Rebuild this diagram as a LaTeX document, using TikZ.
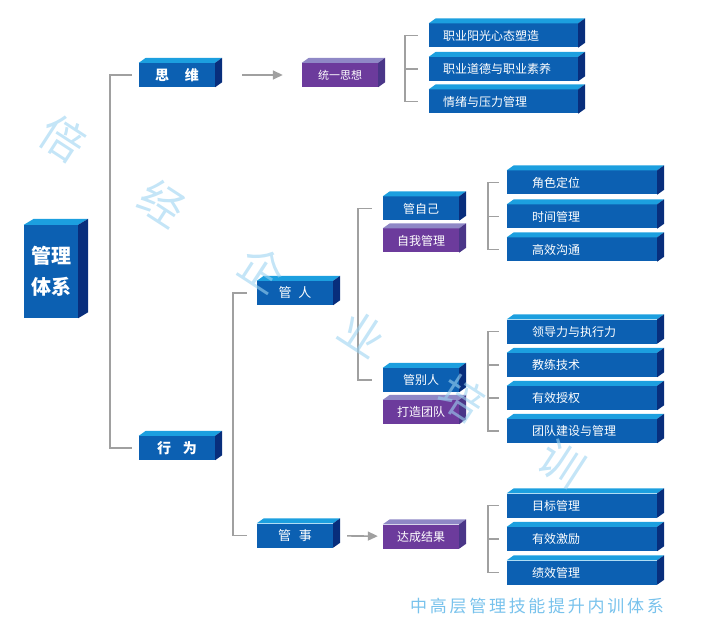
\documentclass[tikz,border=0pt]{standalone}
\usepackage{fontspec}
\usepackage{tikz}
\usetikzlibrary{arrows.meta}
\setmainfont{Noto Sans CJK SC}
\newfontfamily\footfont[LetterSpace=16]{Noto Sans CJK SC}
\definecolor{front}{HTML}{0C60B2}
\definecolor{topc}{HTML}{1C9FDF}
\definecolor{sidec}{HTML}{082E7C}
\definecolor{pfront}{HTML}{6C3B9C}
\definecolor{ptop}{HTML}{8F88C6}
\definecolor{pside}{HTML}{4A3688}
\definecolor{linkc}{HTML}{A0A0A0}
\definecolor{wm}{HTML}{9CD3F1}
\definecolor{foot}{HTML}{78C2EC}

\begin{document}
\begin{tikzpicture}[x=1pt,y=-1pt,
    blok/.style={fill=front,text=white,minimum width=76,minimum height=24,inner sep=0,font=\fontsize{12}{14}\selectfont},
    paars/.style={blok,fill=pfront},
    itema/.style={blok,inner xsep=14,text width=121,align=left},
    itemb/.style={blok,inner xsep=25,text width=100,align=left},
    kop/.style={blok,font=\bfseries\fontsize{14}{16}\selectfont},
    link/.style={draw=linkc,line width=1.6},
    arr/.style={link,-{Triangle[length=10pt,width=9pt]}}]
            \useasboundingbox (0,0) rectangle (704,628);
            % kolom 1
            \node [blok, minimum width=54, minimum height=93, align=center, font=\bfseries\fontsize{20}{31}\selectfont] (sys) at (51,271.5) {管理\\体系};
            \node [kop] (sw) at (177,75) {思\hspace{16pt}维};
            \node [kop] (xw) at (177,448) {行\hspace{12pt}为};
            % kolom 2
            \node [paars, font=\fontsize{11}{13}\selectfont] (ty) at (340,75) {统一思想};
            \node [itema] (a1) at (503.5,35.5) {职业阳光心态塑造};
            \node [itema] (a2) at (503.5,69) {职业道德与职业素养};
            \node [itema] (a3) at (503.5,101.5) {情绪与压力管理};
            \node [kop, font=\fontsize{13}{15}\selectfont] (gr) at (295,293) {管\hspace{7pt}人};
            \node [kop, font=\fontsize{13}{15}\selectfont] (gs) at (295,535.5) {管\hspace{8pt}事};
            % kolom 3
            \node [blok] (gz) at (421,208.5) {管自己};
            \node [paars] (zw) at (421,240.5) {自我管理};
            \node [blok] (gb) at (421,380) {管别人};
            \node [paars] (td) at (421,412) {打造团队};
            \node [paars] (dc) at (421,536.5) {达成结果};
            % kolom 4
            \node [itemb] (b1) at (582,182.5) {角色定位};
            \node [itemb] (b2) at (582,216.5) {时间管理};
            \node [itemb] (b3) at (582,249.5) {高效沟通};
            \node [itemb] (c1) at (582,331.5) {领导力与执行力};
            \node [itemb] (c2) at (582,365) {教练技术};
            \node [itemb] (c3) at (582,398) {有效授权};
            \node [itemb] (c4) at (582,431) {团队建设与管理};
            \node [itemb] (d1) at (582,505.5) {目标管理};
            \node [itemb] (d2) at (582,539) {有效激励};
            \node [itemb] (d3) at (582,572.5) {绩效管理};
            % zijvlakken
            \fill [topc] (sys.north west) -- ++(10,-6) -- ([shift={(10,-6)}]sys.north east) -- (sys.north east) -- cycle;
            \fill [sidec] (sys.north east) -- ++(10,-6) -- ([shift={(10,-6)}]sys.south east) -- (sys.south east) -- cycle;
            \foreach \n in {sw,xw,a1,a2,a3,gr,gs,gz,gb,b1,b2,b3,c1,c2,c3,c4,d1,d2,d3} {
                \fill [topc] (\n.north west) -- ++(7,-5) -- ([shift={(7,-5)}]\n.north east) -- (\n.north east) -- cycle;
                \fill [sidec] (\n.north east) -- ++(7,-5) -- ([shift={(7,-5)}]\n.south east) -- (\n.south east) -- cycle;
            }
            \foreach \n in {ty,zw,td,dc} {
                \fill [ptop] (\n.north west) -- ++(7,-5) -- ([shift={(7,-5)}]\n.north east) -- (\n.north east) -- cycle;
                \fill [pside] (\n.north east) -- ++(7,-5) -- ([shift={(7,-5)}]\n.south east) -- (\n.south east) -- cycle;
            }
            % haken
            \coordinate (k1) at (110,0);
            \coordinate (k2) at (405,0);
            \coordinate (k3) at (233,0);
            \coordinate (k4) at (358,0);
            \coordinate (k5) at (488,0);
            \draw [link] ([xshift=-7]sw.west) -- (sw.west -| k1) -- (xw.west -| k1) -- ([xshift=-7]xw.west);
            \draw [link] ([xshift=-11]a1.west) -- (a1.west -| k2) -- (a3.west -| k2) -- ([xshift=-11]a3.west);
            \draw [link] (a2.west -| k2) -- ([xshift=-11]a2.west);
            \draw [link] ([xshift=-10]gr.west) -- (gr.west -| k3) -- (gs.west -| k3) -- ([xshift=-10]gs.west);
            \draw [link] ([xshift=-11]gz.west) -- (gz.west -| k4) -- (gb.west -| k4) -- ([xshift=-11]gb.west);
            \draw [link] ([xshift=-8]b1.west) -- (b1.west -| k5) -- (b3.west -| k5) -- ([xshift=-8]b3.west);
            \draw [link] (b2.west -| k5) -- ([xshift=-8]b2.west);
            \draw [link] ([xshift=-8]c1.west) -- (c1.west -| k5) -- (c4.west -| k5) -- ([xshift=-8]c4.west);
            \draw [link] (c2.west -| k5) -- ([xshift=-8]c2.west);
            \draw [link] (c3.west -| k5) -- ([xshift=-8]c3.west);
            \draw [link] ([xshift=-8]d1.west) -- (d1.west -| k5) -- (d3.west -| k5) -- ([xshift=-8]d3.west);
            \draw [link] (d2.west -| k5) -- ([xshift=-8]d2.west);
            \draw [arr, shorten <=27pt, shorten >=19pt] (sw) -- (ty);
            \draw [arr, shorten <=14pt, shorten >=5pt] (gs) -- (dc);
            % watermerk en voet
            \foreach \c [count=\i from 0] in {倍,经,企,业,培,训}
                \node [text=wm, opacity=0.6, rotate=-33, font=\fontsize{44}{44}\selectfont] (w\i) at (63+99.8*\i,138+65.2*\i) {\c};
            \node [text=foot, font=\footfont\fontsize{17}{20}\selectfont] (ft) at (537,606) {中高层管理技能提升内训体系};
        \end{tikzpicture}
\end{document}
